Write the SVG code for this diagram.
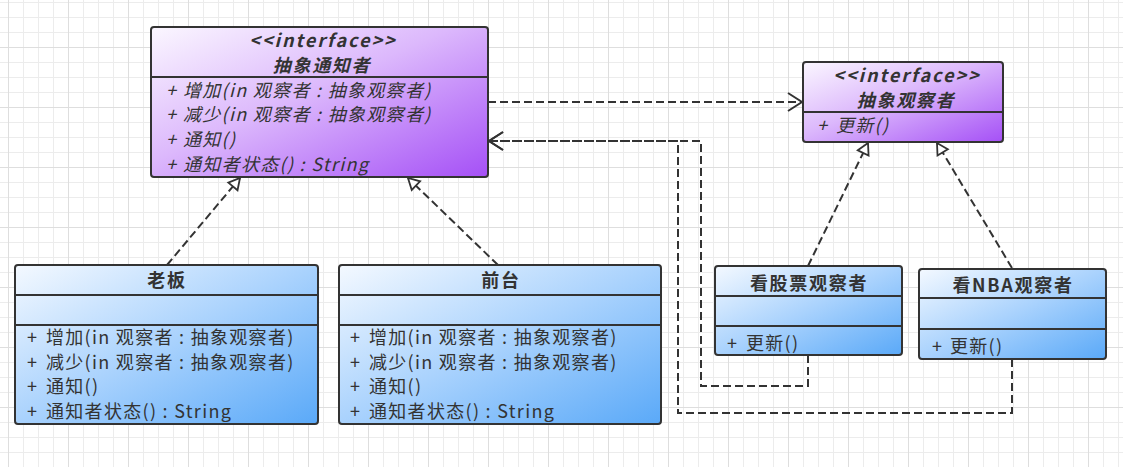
<svg xmlns="http://www.w3.org/2000/svg" width="1123" height="467" viewBox="0 0 1123 467">
<defs>
<pattern id="grid" patternUnits="userSpaceOnUse" x="8" y="47" width="60" height="60">
<rect x="0" y="0" width="60" height="60" fill="#ffffff"/>
<rect x="15" y="0" width="1" height="60" fill="#ececec"/>
<rect x="30" y="0" width="1" height="60" fill="#ececec"/>
<rect x="45" y="0" width="1" height="60" fill="#ececec"/>
<rect x="0" y="15" width="60" height="1" fill="#ececec"/>
<rect x="0" y="30" width="60" height="1" fill="#ececec"/>
<rect x="0" y="45" width="60" height="1" fill="#ececec"/>
<rect x="0" y="0" width="1" height="60" fill="#dedede"/>
<rect x="0" y="0" width="60" height="1" fill="#dedede"/>
</pattern>
<linearGradient id="purple" x1="0" y1="0" x2="1" y2="1">
<stop offset="0" stop-color="#fbf7ff"/>
<stop offset="0.45" stop-color="#dcb8fc"/>
<stop offset="1" stop-color="#a550f6"/>
</linearGradient>
<linearGradient id="blue" x1="0" y1="0" x2="1" y2="1">
<stop offset="0" stop-color="#f4f9ff"/>
<stop offset="0.5" stop-color="#a9d2fd"/>
<stop offset="1" stop-color="#5aa9f8"/>
</linearGradient>
<marker id="open" markerWidth="20" markerHeight="24" refX="15" refY="10" orient="auto" markerUnits="userSpaceOnUse" viewBox="0 0 20 20">
<path d="M1,1 L15,10 L1,19" fill="none" stroke="#333" stroke-width="2"/>
</marker>
<marker id="tri" markerWidth="16" markerHeight="16" refX="13" refY="8" orient="auto" markerUnits="userSpaceOnUse" viewBox="0 0 16 16">
<path d="M2,2 L13,8 L2,14 Z" fill="#fff" stroke="#333" stroke-width="1.8"/>
</marker>
</defs>
<style>
.box{stroke:#333;stroke-width:2}
.div{stroke:#333;stroke-width:2}
.t{font-family:"Noto Sans CJK SC","Noto Sans",sans-serif;font-size:18px;fill:#333;letter-spacing:1.3px}
.ti{font-style:italic}
.tb{font-weight:bold;letter-spacing:1.7px}
.ls{letter-spacing:2px}
.mid{text-anchor:middle}
.conn path{fill:none;stroke:#333;stroke-width:2;stroke-dasharray:8 4}
</style>
<rect x="0" y="0" width="1123" height="467" fill="url(#grid)"/>

<g id="conn" class="conn">
<path d="M488,102 H802" marker-end="url(#open)"/>
<path d="M808,355 V386 H701 V141 H489" marker-end="url(#open)"/>
<path d="M1012,359 V413 H678 V141 H489" marker-end="url(#open)"/>
<path d="M167,265 L240,178" marker-end="url(#tri)"/>
<path d="M498,265 L408,178" marker-end="url(#tri)"/>
<path d="M808,266 L868,143" marker-end="url(#tri)"/>
<path d="M1012,268 L937,143" marker-end="url(#tri)"/>
</g>

<g id="notifier">
<rect class="box" x="151" y="27" width="337" height="150" rx="3" fill="url(#purple)"/>
<line class="div" x1="151" y1="77" x2="488" y2="77"/>
<text class="t ti tb mid ls" x="323" y="46.5">&lt;&lt;interface&gt;&gt;</text>
<text class="t ti tb mid" x="322" y="72">抽象通知者</text>
<text class="t ti" x="166" y="96.5">+ <tspan x="183">增加(in 观察者 : 抽象观察者)</tspan></text>
<text class="t ti" x="166" y="121">+ <tspan x="183">减少(in 观察者 : 抽象观察者)</tspan></text>
<text class="t ti" x="166" y="146">+ <tspan x="183">通知()</tspan></text>
<text class="t ti" x="166" y="170.5">+ <tspan x="183">通知者状态() : String</tspan></text>
</g>

<g id="observer">
<rect class="box" x="803" y="62" width="200" height="80" rx="3" fill="url(#purple)"/>
<line class="div" x1="803" y1="112" x2="1003" y2="112"/>
<text class="t ti tb mid ls" x="907" y="82">&lt;&lt;interface&gt;&gt;</text>
<text class="t ti tb mid" x="906" y="107">抽象观察者</text>
<text class="t ti" x="817" y="132">+ <tspan x="836">更新()</tspan></text>
</g>

<g id="boss">
<rect class="box" x="15" y="265" width="303" height="159" rx="3" fill="url(#blue)"/>
<line class="div" x1="15" y1="295" x2="318" y2="295"/>
<line class="div" x1="15" y1="325" x2="318" y2="325"/>
<text class="t tb mid" x="167" y="287">老板</text>
<text class="t" x="27" y="344">+ <tspan x="46">增加(in 观察者 : 抽象观察者)</tspan></text>
<text class="t" x="27" y="369">+ <tspan x="46">减少(in 观察者 : 抽象观察者)</tspan></text>
<text class="t" x="27" y="393">+ <tspan x="46">通知()</tspan></text>
<text class="t" x="27" y="418">+ <tspan x="46">通知者状态() : String</tspan></text>
</g>

<g id="reception">
<rect class="box" x="339" y="265" width="322" height="159" rx="3" fill="url(#blue)"/>
<line class="div" x1="339" y1="295" x2="661" y2="295"/>
<line class="div" x1="339" y1="325" x2="661" y2="325"/>
<text class="t tb mid" x="501" y="287">前台</text>
<text class="t" x="350" y="344">+ <tspan x="369">增加(in 观察者 : 抽象观察者)</tspan></text>
<text class="t" x="350" y="369">+ <tspan x="369">减少(in 观察者 : 抽象观察者)</tspan></text>
<text class="t" x="350" y="393">+ <tspan x="369">通知()</tspan></text>
<text class="t" x="350" y="418">+ <tspan x="369">通知者状态() : String</tspan></text>
</g>

<g id="stock">
<rect class="box" x="715" y="266" width="187" height="89" rx="3" fill="url(#blue)"/>
<line class="div" x1="715" y1="296" x2="902" y2="296"/>
<line class="div" x1="715" y1="326" x2="902" y2="326"/>
<text class="t tb mid" x="809" y="290">看股票观察者</text>
<text class="t" x="727" y="350">+ <tspan x="746">更新()</tspan></text>
</g>

<g id="nba">
<rect class="box" x="919" y="269" width="187" height="90" rx="3" fill="url(#blue)"/>
<line class="div" x1="919" y1="298" x2="1106" y2="298"/>
<line class="div" x1="919" y1="329" x2="1106" y2="329"/>
<text class="t tb mid" x="1013" y="292">看NBA观察者</text>
<text class="t" x="932" y="353">+ <tspan x="950">更新()</tspan></text>
</g>
</svg>
